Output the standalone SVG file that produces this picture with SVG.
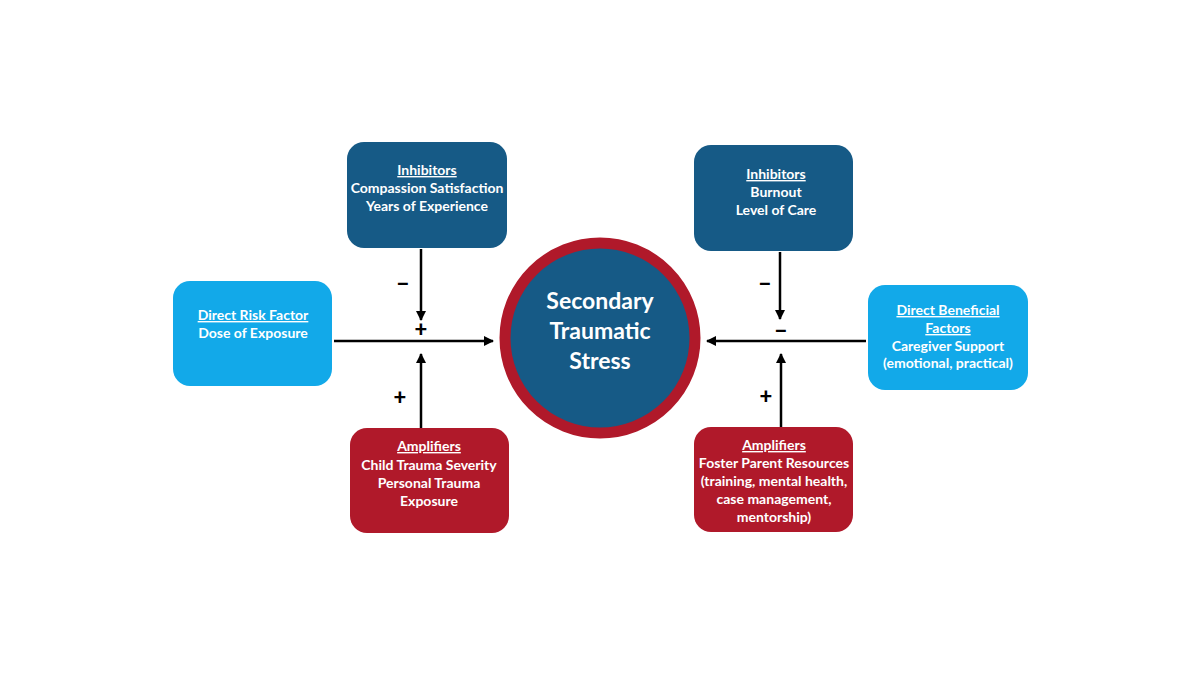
<svg xmlns="http://www.w3.org/2000/svg" width="1200" height="675" viewBox="0 0 1200 675">
<defs>
<marker id="ah" viewBox="0 0 10 10" refX="9" refY="5" markerWidth="10" markerHeight="10" markerUnits="userSpaceOnUse" orient="auto">
<path d="M0,0 L10,5 L0,10 Z" fill="#000"/>
</marker>
</defs>
<style>
.t{font-family:Lato,"Open Sans","Liberation Sans",sans-serif;font-weight:bold;font-size:14px;fill:#fff;text-anchor:middle}
.u{text-decoration:underline}
.dark{fill:#165A86}
.light{fill:#12A9E9}
.red{fill:#B0192A}
.ln{stroke:#000;stroke-width:2.5;fill:none;marker-end:url(#ah)}
.sg{font-family:Lato,"Open Sans","Liberation Sans",sans-serif;font-weight:900;font-size:22px;fill:#000;text-anchor:middle}
.ct{font-family:Lato,"Open Sans","Liberation Sans",sans-serif;font-weight:bold;font-size:23px;fill:#fff;text-anchor:middle}
</style>
<rect width="1200" height="675" fill="#fff"/>
<g id="inhibitors-left">
<rect class="dark" x="347" y="142" width="160" height="106" rx="17"/>
<text class="t u" x="427" y="175">Inhibitors</text>
<text class="t" x="427" y="193">Compassion Satisfaction</text>
<text class="t" x="427" y="211">Years of Experience</text>
</g>
<g id="inhibitors-right">
<rect class="dark" x="694" y="145" width="159" height="106" rx="17"/>
<text class="t u" x="776" y="179">Inhibitors</text>
<text class="t" x="776" y="197">Burnout</text>
<text class="t" x="776" y="215">Level of Care</text>
</g>
<g id="direct-risk">
<rect class="light" x="173" y="281" width="159" height="105" rx="17"/>
<text class="t u" x="253" y="320">Direct Risk Factor</text>
<text class="t" x="253" y="338">Dose of Exposure</text>
</g>
<g id="direct-beneficial">
<rect class="light" x="868" y="285" width="160" height="105" rx="17"/>
<text class="t u" x="948" y="315">Direct Beneficial</text>
<text class="t u" x="948" y="333">Factors</text>
<text class="t" x="948" y="351">Caregiver Support</text>
<text class="t" x="948" y="368">(emotional, practical)</text>
</g>
<g id="amplifiers-left">
<rect class="red" x="350" y="428" width="159" height="105" rx="17"/>
<text class="t u" x="429" y="451">Amplifiers</text>
<text class="t" x="429" y="470">Child Trauma Severity</text>
<text class="t" x="429" y="488">Personal Trauma</text>
<text class="t" x="429" y="506">Exposure</text>
</g>
<g id="amplifiers-right">
<rect class="red" x="694" y="427" width="159" height="105" rx="17"/>
<text class="t u" x="774" y="450">Amplifiers</text>
<text class="t" x="774" y="468">Foster Parent Resources</text>
<text class="t" x="774" y="486">(training, mental health,</text>
<text class="t" x="774" y="504">case management,</text>
<text class="t" x="774" y="522">mentorship)</text>
</g>
<g id="sts">
<circle cx="600" cy="338" r="95" fill="#165A86" stroke="#B0192A" stroke-width="11"/>
<text class="ct" x="600" y="309">Secondary</text>
<text class="ct" x="600" y="339">Traumatic</text>
<text class="ct" x="600" y="369">Stress</text>
</g>
<g id="connectors">
<line class="ln" x1="334" y1="341" x2="493" y2="341"/>
<line class="ln" x1="421" y1="249" x2="421" y2="320"/>
<line class="ln" x1="421" y1="428" x2="421" y2="354"/>
<line class="ln" x1="866" y1="341" x2="707" y2="341"/>
<line class="ln" x1="780" y1="252" x2="780" y2="319"/>
<line class="ln" x1="781" y1="427" x2="781" y2="354"/>
<text class="sg" x="403" y="292">−</text>
<text class="sg" x="421" y="337">+</text>
<text class="sg" x="400" y="405">+</text>
<text class="sg" x="765" y="292">−</text>
<text class="sg" x="781" y="339">−</text>
<text class="sg" x="766" y="404">+</text>
</g>
</svg>
